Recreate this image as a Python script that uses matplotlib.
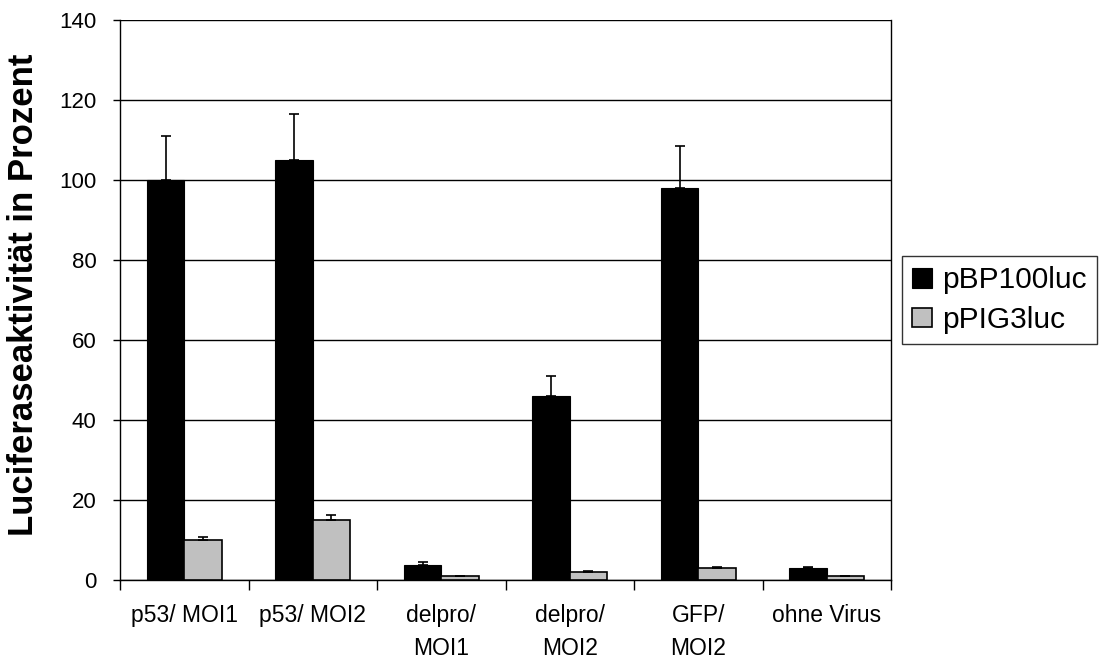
import numpy as np
import matplotlib.pyplot as plt

plt.rcParams['font.family'] = ['Liberation Sans', 'DejaVu Sans']

# Daten
kategorien = ['p53/ MOI1', 'p53/ MOI2', 'delpro/\nMOI1', 'delpro/\nMOI2', 'GFP/\nMOI2', 'ohne Virus']
pBP100luc = [100, 105, 3.8, 46, 98, 3]
pBP100luc_err = [11, 11.5, 0.6, 5, 10.5, 0.3]
pPIG3luc = [10, 15, 1.0, 2, 3, 1]
pPIG3luc_err = [0.8, 1.3, 0.1, 0.2, 0.2, 0.1]

fig = plt.figure(figsize=(11.01, 6.59), dpi=100)
ax = fig.add_axes([120/1101, 79/659, 771/1101, 560/659])

x = np.arange(len(kategorien))
b = 0.29
ax.bar(x - b/2, pBP100luc, b, color='black', edgecolor='black', linewidth=0.8,
       label='pBP100luc', zorder=3)
ax.bar(x + b/2, pPIG3luc, b, color='#c0c0c0', edgecolor='black', linewidth=1.2,
       label='pPIG3luc', zorder=3)
ax.errorbar(x - b/2, pBP100luc, yerr=[np.zeros(len(x)), pBP100luc_err], fmt='none',
            ecolor='black', elinewidth=1.2, capsize=3.5, capthick=1.2, zorder=4)
ax.errorbar(x + b/2, pPIG3luc, yerr=[np.zeros(len(x)), pPIG3luc_err], fmt='none',
            ecolor='black', elinewidth=1.2, capsize=3.5, capthick=1.2, zorder=4)

ax.set_xlim(-0.5, len(x) - 0.5)
ax.set_ylim(0, 140)
ax.set_yticks(np.arange(0, 141, 20))
ax.yaxis.grid(True, color='black', linewidth=1)
ax.set_axisbelow(True)
ax.set_xticks(x)
ax.set_xticklabels(kategorien, fontsize=16.5, linespacing=1.55)
ax.set_xticks(np.arange(-0.5, len(x), 1), minor=True)
ax.tick_params(axis='x', which='major', length=0, pad=17)
ax.tick_params(axis='x', which='minor', length=7, width=1)
ax.tick_params(axis='y', labelsize=16, length=5, width=1, pad=12)
for s in ax.spines.values():
    s.set_linewidth(1)
ax.spines['top'].set_visible(False)

ax.set_ylabel('Luciferaseaktivität in Prozent', fontsize=25, fontweight='bold')
ax.yaxis.set_label_coords(-80/771, 0.51)

leg = ax.legend(loc='center left', bbox_to_anchor=(782/771, 0.5), fontsize=21.5,
                frameon=True, fancybox=False, edgecolor='black',
                handlelength=0.65, handleheight=0.65, handletextpad=0.35,
                borderpad=0.35, labelspacing=0.4, borderaxespad=0)
leg.get_frame().set_linewidth(1)

fig.savefig('out.png', dpi=100)
